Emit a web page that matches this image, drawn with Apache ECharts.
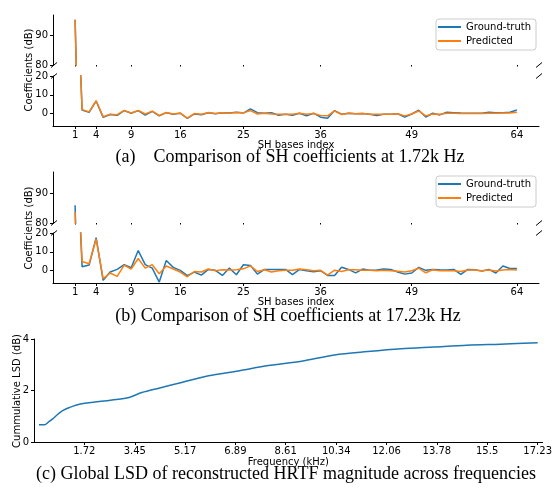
<!DOCTYPE html>
<html>
<head>
<meta charset="utf-8">
<script src="https://cdn.jsdelivr.net/npm/echarts@6/dist/echarts.min.js"></script>
<style>
html, body { margin: 0; padding: 0; background: #fff; }
#main { width: 555px; height: 489px; }
</style>
</head>
<body>
<div id="main"></div>
<script>
// SH bases index (x axis of panels a and b)
var shIndex = [1, 2, 3, 4, 5, 6, 7, 8, 9, 10, 11, 12, 13, 14, 15, 16,
  17, 18, 19, 20, 21, 22, 23, 24, 25, 26, 27, 28, 29, 30, 31, 32,
  33, 34, 35, 36, 37, 38, 39, 40, 41, 42, 43, 44, 45, 46, 47, 48,
  49, 50, 51, 52, 53, 54, 55, 56, 57, 58, 59, 60, 61, 62, 63, 64];
var shTicks = [1, 4, 9, 16, 25, 36, 49, 64];

// (a) 1.72k Hz
var gtA = [95.3, 1.9, 0.7, 6.7, -2.0, -0.5, -0.9, 1.6, 0.2, 1.6, -0.8, 1.2, -1.2, 0.5, -0.4, 0.2,
  -2.6, -0.2, -0.6, 0.4, -0.1, 0.4, 0.3, 0.7, 0.3, 2.5, 0.5, 0.2, 0.5, -0.9, -0.3, -0.9,
  0.2, -1.2, 0.2, -1.9, -2.5, 1.6, -0.3, 0.2, -0.1, 0.0, -0.3, -1.0, -0.3, -0.3, -0.1, -1.9,
  -0.2, 1.8, -1.8, 0.2, -0.7, 0.7, 0.5, 0.3, 0.2, 0.2, 0.2, 0.7, 0.5, 0.5, 0.7, 1.9];
var predA = [95.3, 2.1, 0.9, 6.8, -1.7, -0.3, -0.6, 1.7, 0.3, 1.7, -0.2, 1.3, -1.0, 0.6, -0.2, 0.3,
  -2.4, 0.0, -0.4, 0.6, 0.1, 0.5, 0.2, 0.6, 0.4, 1.6, -0.2, 0.2, -0.2, -0.4, -0.3, -0.4,
  0.2, -0.4, 0.0, -1.0, -1.2, 1.4, -0.5, 0.2, -0.1, 0.1, -0.3, -0.4, -0.3, -0.3, -0.1, -1.2,
  -0.2, 1.4, -1.2, -0.2, -0.4, 0.2, 0.2, 0.0, 0.1, 0.1, 0.1, 0.2, 0.2, 0.3, 0.3, 0.7];

// (b) 17.23k Hz
var gtB = [85.9, 2.1, 3.0, 17.5, -5.1, -0.7, 0.7, 3.2, 1.6, 10.7, 3.2, 1.4, -6.0, 5.4, 1.8, 0.2,
  -2.6, -0.7, -2.3, 0.7, 0.2, -2.5, 1.4, -2.1, 3.2, 2.8, -1.8, 0.7, 0.7, 0.7, 0.7, -2.1,
  0.7, 0.0, -0.5, 0.0, -2.5, -2.5, 1.8, 0.7, -1.1, 0.9, 0.2, 0.4, 0.9, 0.7, -0.7, -1.8,
  -1.2, 1.8, 0.2, 0.7, 0.5, 0.4, 0.7, -1.9, 0.7, 0.5, -0.2, 0.7, -1.2, 2.5, 1.2, 1.2];
var predB = [83.7, 4.9, 3.7, 16.8, -4.2, -1.2, -3.0, 3.0, 0.9, 6.5, 1.4, 3.2, -1.6, 2.5, 0.9, -0.7,
  -3.2, -0.4, -0.7, 0.9, 0.0, 0.5, 0.4, 0.5, 1.0, 2.6, -0.4, 0.5, -0.7, 0.0, 0.2, 0.2,
  0.9, 0.5, 0.0, 0.2, -2.3, 0.3, -0.4, 0.5, 0.5, 0.3, 0.3, 0.0, 0.2, 0.0, -0.3, -0.7,
  0.0, 1.4, -1.1, 0.5, 0.0, 0.0, 0.0, -0.4, 0.4, 0.4, 0.0, 0.4, -0.2, 0.4, 0.7, 0.4];

// (c) cumulative LSD vs frequency
var freqKHz = [0.17, 0.36, 0.5, 0.64, 0.86, 0.98, 1.21, 1.55, 2.23, 2.67, 3.25, 3.69, 4.27,
  5.05, 5.97, 6.99, 8.01, 9.15, 10.28, 11.41, 12.55, 13.68, 14.81, 15.95, 17.23];
var cumLSD = [0.67, 0.67, 0.78, 0.9, 1.12, 1.22, 1.34, 1.47, 1.57, 1.63, 1.73, 1.92, 2.09,
  2.31, 2.57, 2.76, 2.97, 3.14, 3.38, 3.51, 3.62, 3.69, 3.76, 3.80, 3.85];
var freqTicks = ['1.72', '3.45', '5.17', '6.89', '8.61', '10.34', '12.06', '13.78', '15.5', '17.23'];

var BLUE = '#1f77b4', ORANGE = '#ff7f0e';
var tickFont = { fontFamily: 'DejaVu Sans', fontSize: 10, color: '#000' };

function pairs(xs, ys) {
  return xs.map(function (x, i) { return [x, ys[i]]; });
}

// x axis of the SH panels; the upper half only shows tick dots
function shX(grid, lower) {
  return {
    type: 'value', gridIndex: grid, min: -2.15, max: 67.15,
    splitLine: { show: false },
    axisLine: { show: lower, onZero: false, lineStyle: { color: '#000', width: 1 } },
    axisTick: { show: true, customValues: shTicks, length: lower ? 3 : 1.5, lineStyle: { color: '#000' } },
    axisLabel: { show: lower, customValues: shTicks, margin: 4, ...tickFont },
    name: lower ? 'SH bases index' : '', nameLocation: 'middle', nameGap: 14,
    nameTextStyle: { fontFamily: 'DejaVu Sans', fontSize: 10, color: '#000' }
  };
}

function shY(grid, min, max, ticks) {
  return {
    type: 'value', gridIndex: grid, min: min, max: max,
    splitLine: { show: false },
    axisLine: { show: true, onZero: false, lineStyle: { color: '#000', width: 1 } },
    axisTick: { show: true, customValues: ticks, length: 3, lineStyle: { color: '#000' } },
    axisLabel: { customValues: ticks, margin: 5, ...tickFont }
  };
}

function shSeries(name, color, data, xi, z) {
  return {
    name: name, type: 'line', xAxisIndex: xi, yAxisIndex: xi,
    data: pairs(shIndex, data), showSymbol: false, clip: true, z: z,
    lineStyle: { color: color, width: 1.5 }, itemStyle: { color: color },
    silent: true
  };
}

// diagonal break marks
function brk(x, y) {
  return { type: 'line', shape: { x1: x - 3, y1: y + 2.5, x2: x + 3, y2: y - 2.5 },
    style: { stroke: '#000', lineWidth: 1 } };
}
function txt(s, x, y, font, rot) {
  return { type: 'text', x: x, y: y, rotation: rot || 0,
    style: { text: s, font: font, fill: '#000', align: 'center', verticalAlign: 'middle' } };
}

var legendBase = {
  data: ['Ground-truth', 'Predicted'], orient: 'vertical', left: 436,
  icon: 'rect', itemWidth: 23, itemHeight: 2, itemGap: 2,
  padding: [2, 5, 3, 2], borderColor: '#cccccc', borderWidth: 1, borderRadius: 3,
  backgroundColor: '#fff',
  textStyle: { fontFamily: 'DejaVu Sans', fontSize: 10, color: '#000', lineHeight: 12 }
};

var chart = echarts.init(document.getElementById('main'));
chart.setOption({
  animation: false,
  backgroundColor: '#fff',
  grid: [
    { left: 53, top: 15, width: 486, height: 50 },
    { left: 53, top: 76, width: 486, height: 50 },
    { left: 53, top: 172, width: 486, height: 51 },
    { left: 53, top: 233, width: 486, height: 50 },
    { left: 34, top: 339, width: 511, height: 103 }
  ],
  legend: [
    Object.assign({}, legendBase, { top: 19 }),
    Object.assign({}, legendBase, { top: 176 })
  ],
  xAxis: [
    shX(0, false), shX(1, true), shX(2, false), shX(3, true),
    {
      type: 'value', gridIndex: 4, min: 0, max: 17.4,
      splitLine: { show: false },
      axisLine: { show: true, onZero: false, lineStyle: { color: '#000', width: 1 } },
      axisTick: { show: true, customValues: freqTicks.map(Number), length: 3, lineStyle: { color: '#000' } },
      axisLabel: { customValues: freqTicks.map(Number), margin: 4, ...tickFont,
        formatter: function (v) { return String(v); } },
      name: 'Frequency (kHz)', nameLocation: 'middle', nameGap: 15,
      nameTextStyle: { fontFamily: 'DejaVu Sans', fontSize: 10, color: '#000' }
    }
  ],
  yAxis: [
    shY(0, 80, 96.9, [80, 90]),
    shY(1, -6.6, 20, [0, 10, 20]),
    shY(2, 80, 97, [80, 90]),
    shY(3, -6.5, 20, [0, 10, 20]),
    shY(4, 0, 4, [0, 2, 4])
  ],
  series: [
    shSeries('Ground-truth', BLUE, gtA, 0, 2),
    shSeries('Predicted', ORANGE, predA, 0, 3),
    shSeries('Ground-truth', BLUE, gtA, 1, 2),
    shSeries('Predicted', ORANGE, predA, 1, 3),
    shSeries('Ground-truth', BLUE, gtB, 2, 2),
    shSeries('Predicted', ORANGE, predB, 2, 3),
    shSeries('Ground-truth', BLUE, gtB, 3, 2),
    shSeries('Predicted', ORANGE, predB, 3, 3),
    {
      name: 'LSD', type: 'line', xAxisIndex: 4, yAxisIndex: 4,
      data: pairs(freqKHz, cumLSD), showSymbol: false, smooth: 0.3,
      lineStyle: { color: BLUE, width: 1.5 }, silent: true
    }
  ],
  graphic: [
    brk(54, 65), brk(54, 76), brk(539, 65), brk(539, 76),
    brk(54, 223), brk(54, 233), brk(539, 223), brk(539, 233),
    txt('Coefficients (dB)', 29, 70, '10px "DejaVu Sans"', Math.PI / 2),
    txt('Coefficients (dB)', 29, 228, '10px "DejaVu Sans"', Math.PI / 2),
    txt('Cummulative LSD (dB)', 17, 391, '10px "DejaVu Sans"', Math.PI / 2),
    txt('(a)    Comparison of SH coefficients at 1.72k Hz', 290, 157, '18px "Liberation Serif"'),
    txt('(b) Comparison of SH coefficients at 17.23k Hz', 288, 316, '18px "Liberation Serif"'),
    txt('(c) Global LSD of reconstructed HRTF magnitude across frequencies', 286, 474, '18px "Liberation Serif"')
  ]
});
</script>
</body>
</html>
